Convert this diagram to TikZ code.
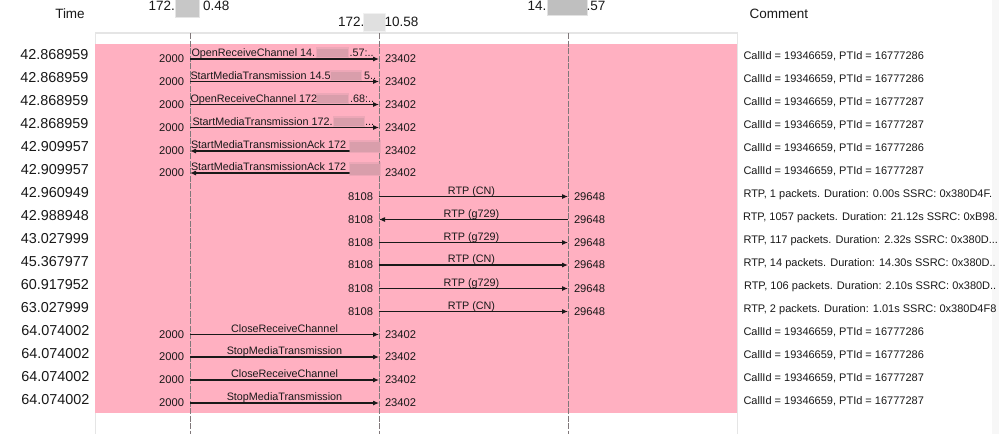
\documentclass[tikz,border=0pt]{standalone}
\usepackage{fontspec}
\setmainfont{Liberation Sans}
\usetikzlibrary{arrows.meta}
\newlength{\du}
\setlength{\du}{1pt}
\definecolor{dialinecolor}{rgb}{0.100000, 0.100000, 0.100000}
\definecolor{bandcolor}{rgb}{1.000000, 0.690000, 0.756000}
\definecolor{framecolor}{rgb}{0.900000, 0.900000, 0.900000}
\definecolor{lifecolor}{rgb}{0.500000, 0.470000, 0.480000}
\definecolor{smudgecolor}{rgb}{0.850000, 0.620000, 0.670000}
\tikzset{
  every node/.style={inner sep=0pt, outer sep=0pt, text=dialinecolor},
  headtext/.style={font=\fontsize{13.5}{15}\selectfont},
  timetext/.style={anchor=east, font=\fontsize{14.4}{16}\selectfont},
  porttext/.style={font=\fontsize{11.2}{13}\selectfont},
  msgtext/.style={anchor=base, font=\fontsize{10.8}{12}\selectfont},
  commenttext/.style={anchor=base west, font=\fontsize{11}{13}\selectfont},
  msgline/.style={draw=dialinecolor, line width=1.100000\du, shorten <=6\du, shorten >=6\du, -{Latex[length=6pt,width=5pt]}},
  lifeline/.style={draw=lifecolor, line width=0.9\du, dash pattern=on 6\du off 1.5\du},
  smudge/.style={fill=#1, draw=#1, draw opacity=0.45, line width=2.500000\du},
}

\begin{document}
\begin{tikzpicture}
\pgftransformxscale{1.000000}
\pgftransformyscale{-1.000000}
\useasboundingbox (0.000000\du,0.000000\du) rectangle (999.000000\du,434.000000\du);
% page, frame and band
\fill[white] (0.000000\du,0.000000\du) rectangle (999.000000\du,434.000000\du);
\fill[black!3] (992.000000\du,0.000000\du) rectangle (999.000000\du,434.000000\du);
\draw[framecolor, line width=1.300000\du] (95.500000\du,434.000000\du)--(95.500000\du,33.000000\du)--(737.500000\du,33.000000\du)--(737.500000\du,434.000000\du);
\fill[bandcolor] (95.000000\du,44.000000\du) rectangle (737.000000\du,412.500000\du);
% lifelines
\coordinate (top1) at (190.000000\du,33.000000\du);
\coordinate (bot1) at (190.000000\du,434.000000\du);
\coordinate (top2) at (379.000000\du,33.000000\du);
\coordinate (bot2) at (379.000000\du,434.000000\du);
\coordinate (top3) at (568.000000\du,33.000000\du);
\coordinate (bot3) at (568.000000\du,434.000000\du);
\draw[lifeline] (top1)--(bot1);
\draw[lifeline] (top2)--(bot2);
\draw[lifeline] (top3)--(bot3);
% header
\node[headtext] (time) at (70.000000\du,14.000000\du){Time};
\node[headtext, anchor=west] (comment) at (749.500000\du,14.000000\du){Comment};
\node[headtext, anchor=west] (host1a) at (148.500000\du,6.000000\du){172.};
\node[headtext, anchor=east] (host1b) at (229.500000\du,6.000000\du){0.48};
\node[headtext, anchor=west] (host2a) at (338.000000\du,22.000000\du){172.};
\node[headtext, anchor=east] (host2b) at (418.500000\du,22.000000\du){10.58};
\node[headtext, anchor=west] (host3a) at (527.500000\du,6.000000\du){14.};
\node[headtext, anchor=east] (host3b) at (605.500000\du,6.000000\du){.57};
% times
\node[timetext] (t1) at (88.500000\du,55.000000\du){42.868959};
\node[timetext] (t2) at (88.500000\du,78.000000\du){42.868959};
\node[timetext] (t3) at (88.500000\du,101.000000\du){42.868959};
\node[timetext] (t4) at (88.500000\du,124.000000\du){42.868959};
\node[timetext] (t5) at (89.000000\du,147.000000\du){42.909957};
\node[timetext] (t6) at (89.000000\du,170.000000\du){42.909957};
\node[timetext] (t7) at (89.000000\du,193.000000\du){42.960949};
\node[timetext] (t8) at (89.000000\du,216.000000\du){42.988948};
\node[timetext] (t9) at (89.000000\du,239.000000\du){43.027999};
\node[timetext] (t10) at (89.000000\du,262.000000\du){45.367977};
\node[timetext] (t11) at (89.000000\du,285.000000\du){60.917952};
\node[timetext] (t12) at (89.000000\du,308.000000\du){63.027999};
\node[timetext] (t13) at (89.500000\du,331.000000\du){64.074002};
\node[timetext] (t14) at (89.500000\du,354.000000\du){64.074002};
\node[timetext] (t15) at (89.500000\du,377.000000\du){64.074002};
\node[timetext] (t16) at (89.500000\du,400.000000\du){64.074002};
% ports
\node[porttext, anchor=east] (a1) at (184.000000\du,59.000000\du){2000};
\node[porttext, anchor=west] (b1) at (385.000000\du,59.000000\du){23402};
\node[porttext, anchor=east] (a2) at (184.000000\du,81.500000\du){2000};
\node[porttext, anchor=west] (b2) at (385.000000\du,81.500000\du){23402};
\node[porttext, anchor=east] (a3) at (184.000000\du,104.500000\du){2000};
\node[porttext, anchor=west] (b3) at (385.000000\du,104.500000\du){23402};
\node[porttext, anchor=east] (a4) at (184.000000\du,127.500000\du){2000};
\node[porttext, anchor=west] (b4) at (385.000000\du,127.500000\du){23402};
\node[porttext, anchor=east] (a5) at (184.000000\du,151.000000\du){2000};
\node[porttext, anchor=west] (b5) at (385.000000\du,151.000000\du){23402};
\node[porttext, anchor=east] (a6) at (184.000000\du,173.000000\du){2000};
\node[porttext, anchor=west] (b6) at (385.000000\du,173.000000\du){23402};
\node[porttext, anchor=east] (a7) at (373.000000\du,196.500000\du){8108};
\node[porttext, anchor=west] (b7) at (574.000000\du,196.500000\du){29648};
\node[porttext, anchor=east] (a8) at (373.000000\du,219.500000\du){8108};
\node[porttext, anchor=west] (b8) at (574.000000\du,219.500000\du){29648};
\node[porttext, anchor=east] (a9) at (373.000000\du,242.500000\du){8108};
\node[porttext, anchor=west] (b9) at (574.000000\du,242.500000\du){29648};
\node[porttext, anchor=east] (a10) at (373.000000\du,265.000000\du){8108};
\node[porttext, anchor=west] (b10) at (574.000000\du,265.000000\du){29648};
\node[porttext, anchor=east] (a11) at (373.000000\du,288.500000\du){8108};
\node[porttext, anchor=west] (b11) at (574.000000\du,288.500000\du){29648};
\node[porttext, anchor=east] (a12) at (373.000000\du,311.500000\du){8108};
\node[porttext, anchor=west] (b12) at (574.000000\du,311.500000\du){29648};
\node[porttext, anchor=east] (a13) at (184.000000\du,334.500000\du){2000};
\node[porttext, anchor=west] (b13) at (385.000000\du,334.500000\du){23402};
\node[porttext, anchor=east] (a14) at (184.000000\du,357.000000\du){2000};
\node[porttext, anchor=west] (b14) at (385.000000\du,357.000000\du){23402};
\node[porttext, anchor=east] (a15) at (184.000000\du,380.000000\du){2000};
\node[porttext, anchor=west] (b15) at (385.000000\du,380.000000\du){23402};
\node[porttext, anchor=east] (a16) at (184.000000\du,403.000000\du){2000};
\node[porttext, anchor=west] (b16) at (385.000000\du,403.000000\du){23402};
% messages
\draw[msgline] (a1.east)--(b1.west);
\draw[msgline] (a2.east)--(b2.west);
\draw[msgline] (a3.east)--(b3.west);
\draw[msgline] (a4.east)--(b4.west);
\draw[msgline] (b5.west)--(a5.east);
\draw[msgline] (b6.west)--(a6.east);
\draw[msgline] (a7.east)--(b7.west);
\draw[msgline] (b8.west)--(a8.east);
\draw[msgline] (a9.east)--(b9.west);
\draw[msgline] (a10.east)--(b10.west);
\draw[msgline] (a11.east)--(b11.west);
\draw[msgline] (a12.east)--(b12.west);
\draw[msgline] (a13.east)--(b13.west);
\draw[msgline] (a14.east)--(b14.west);
\draw[msgline] (a15.east)--(b15.west);
\draw[msgline] (a16.east)--(b16.west);
% smudges over hidden addresses
\draw[smudge=black!22] (176.000000\du,0.000000\du) rectangle (199.000000\du,17.000000\du);
\draw[smudge=black!12] (364.000000\du,14.000000\du) rectangle (385.000000\du,31.000000\du);
\draw[smudge=black!25] (548.000000\du,0.000000\du) rectangle (587.000000\du,15.000000\du);
\draw[smudge=smudgecolor] (317.000000\du,48.500000\du) rectangle (348.000000\du,57.000000\du);
\draw[smudge=smudgecolor] (331.000000\du,71.500000\du) rectangle (361.000000\du,80.000000\du);
\draw[smudge=smudgecolor] (317.000000\du,94.500000\du) rectangle (348.000000\du,103.000000\du);
\draw[smudge=smudgecolor] (334.000000\du,117.500000\du) rectangle (364.000000\du,126.000000\du);
\draw[smudge=smudgecolor] (350.000000\du,141.500000\du) rectangle (380.000000\du,151.500000\du);
\draw[smudge=smudgecolor] (350.000000\du,163.500000\du) rectangle (380.000000\du,174.500000\du);
% message labels
\node[msgtext, anchor=base west] (m1) at (191.500000\du,56.500000\du){OpenReceiveChannel 14.};
\node[msgtext, anchor=base west] (n1) at (349.500000\du,56.500000\du){.57:..};
\node[msgtext, anchor=base west] (m2) at (190.500000\du,79.000000\du){StartMediaTransmission 14.5};
\node[msgtext, anchor=base west] (n2) at (364.000000\du,79.000000\du){5..};
\node[msgtext, anchor=base west] (m3) at (190.500000\du,102.000000\du){OpenReceiveChannel 172};
\node[msgtext, anchor=base west] (n3) at (350.000000\du,102.000000\du){.68:..};
\node[msgtext, anchor=base west] (m4) at (192.500000\du,125.000000\du){StartMediaTransmission 172.};
\node[msgtext, anchor=base west] (n4) at (365.000000\du,125.000000\du){...};
\node[msgtext, anchor=base west] (m5) at (191.000000\du,148.500000\du){StartMediaTransmissionAck 172};
\node[msgtext, anchor=base west] (m6) at (191.000000\du,170.500000\du){StartMediaTransmissionAck 172};
\node[msgtext] (m7) at (471.500000\du,194.000000\du){RTP (CN)};
\node[msgtext] (m8) at (471.500000\du,217.000000\du){RTP (g729)};
\node[msgtext] (m9) at (471.500000\du,240.000000\du){RTP (g729)};
\node[msgtext] (m10) at (471.500000\du,262.500000\du){RTP (CN)};
\node[msgtext] (m11) at (471.500000\du,286.000000\du){RTP (g729)};
\node[msgtext] (m12) at (471.500000\du,309.000000\du){RTP (CN)};
\node[msgtext] (m13) at (284.500000\du,332.000000\du){CloseReceiveChannel};
\node[msgtext] (m14) at (284.500000\du,354.500000\du){StopMediaTransmission};
\node[msgtext] (m15) at (284.500000\du,377.500000\du){CloseReceiveChannel};
\node[msgtext] (m16) at (284.500000\du,400.500000\du){StopMediaTransmission};
% comments
\node[commenttext] (c1) at (743.500000\du,59.000000\du){CallId = 19346659, PTId = 16777286};
\node[commenttext] (c2) at (743.500000\du,82.000000\du){CallId = 19346659, PTId = 16777286};
\node[commenttext] (c3) at (743.500000\du,105.000000\du){CallId = 19346659, PTId = 16777287};
\node[commenttext] (c4) at (743.500000\du,128.000000\du){CallId = 19346659, PTId = 16777287};
\node[commenttext] (c5) at (743.500000\du,151.000000\du){CallId = 19346659, PTId = 16777286};
\node[commenttext] (c6) at (743.500000\du,174.000000\du){CallId = 19346659, PTId = 16777287};
\node[commenttext] (c7) at (743.500000\du,197.000000\du){RTP, 1 packets. Duration: 0.00s SSRC: 0x380D4F.};
\node[commenttext] (c8) at (743.000000\du,220.000000\du){RTP, 1057 packets. Duration: 21.12s SSRC: 0xB98.};
\node[commenttext] (c9) at (743.500000\du,243.000000\du){RTP, 117 packets. Duration: 2.32s SSRC: 0x380D...};
\node[commenttext] (c10) at (743.500000\du,266.000000\du){RTP, 14 packets. Duration: 14.30s SSRC: 0x380D..};
\node[commenttext] (c11) at (744.000000\du,289.000000\du){RTP, 106 packets. Duration: 2.10s SSRC: 0x380D..};
\node[commenttext] (c12) at (743.500000\du,312.000000\du){RTP, 2 packets. Duration: 1.01s SSRC: 0x380D4F8};
\node[commenttext] (c13) at (743.500000\du,335.000000\du){CallId = 19346659, PTId = 16777286};
\node[commenttext] (c14) at (743.500000\du,358.000000\du){CallId = 19346659, PTId = 16777286};
\node[commenttext] (c15) at (743.500000\du,381.000000\du){CallId = 19346659, PTId = 16777287};
\node[commenttext] (c16) at (743.500000\du,404.000000\du){CallId = 19346659, PTId = 16777287};
\end{tikzpicture}
\end{document}
